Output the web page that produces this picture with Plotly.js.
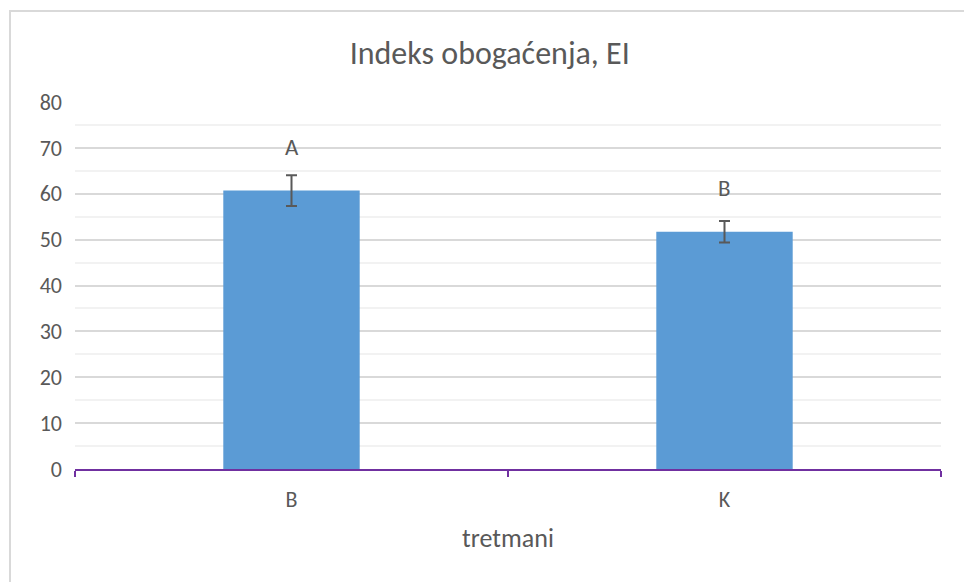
<!DOCTYPE html>
<html>
<head>
<meta charset="utf-8">
<script src="https://cdn.plot.ly/plotly-3.0.1.min.js"></script>
<style>
html,body{margin:0;padding:0;background:#fff;}
#wrap{position:relative;width:964px;height:582px;overflow:hidden;}
#chart{position:absolute;left:0;top:0;width:964px;height:582px;}
#frame{position:absolute;left:9px;top:10px;width:960px;height:580px;border-left:2px solid #d9d9d9;border-top:2px solid #d9d9d9;pointer-events:none;}
</style>
</head>
<body>
<div id="wrap"><div id="chart"></div><div id="frame"></div></div>
<script>
const categories = ['B', 'K'];
const values = [60.7, 51.7];
const errors = [3.35, 2.35];
const letters = ['A', 'B'];
const letterY = [70.3, 61.3];

const font = "Calibri, Carlito, 'Open Sans', 'Noto Sans', sans-serif";
const textColor = '#595959';

const trace = {
  type: 'bar',
  x: categories,
  y: values,
  marker: {color: '#5b9bd5'},
  width: 0.315,
  error_y: {type: 'data', array: errors, visible: true, color: '#595959', thickness: 2, width: 5.5},
  hoverinfo: 'x+y'
};

const annotations = categories.map((c, i) => ({
  x: c, y: letterY[i], xref: 'x', yref: 'y', text: letters[i], showarrow: false,
  font: {family: font, size: 23, color: textColor}
}));

const layout = {
  width: 964, height: 582,
  margin: {l: 75, r: 23, t: 102, b: 113},
  paper_bgcolor: '#ffffff', plot_bgcolor: '#ffffff',
  showlegend: false,
  title: {text: 'Indeks obogaćenja, EI', x: 0.508, xanchor: 'center', y: 0.91, yanchor: 'middle',
          font: {family: font, size: 32, color: textColor}},
  xaxis: {
    type: 'category',
    range: [-0.5, 1.5],
    showline: true, linecolor: '#7030a0', linewidth: 2,
    ticks: 'outside', tickson: 'boundaries', ticklen: 6, tickcolor: '#7030a0', tickwidth: 2,
    showgrid: false,
    ticklabelstandoff: 10,
    tickfont: {family: font, size: 22, color: textColor},
    title: {text: 'tretmani', font: {family: font, size: 26, color: textColor}, standoff: 16}
  },
  yaxis: {
    range: [0, 80], dtick: 10, tick0: 0,
    showline: false, zeroline: false,
    showgrid: true, gridcolor: '#d9d9d9', gridwidth: 2,
    minor: {dtick: 5, showgrid: true, gridcolor: '#f2f2f2', gridwidth: 2},
    ticks: '', ticklabelstandoff: 12,
    tickfont: {family: font, size: 22, color: textColor}
  },
  annotations: annotations
};

Plotly.newPlot('chart', [trace], layout, {displayModeBar: false, staticPlot: true});
</script>
</body>
</html>
